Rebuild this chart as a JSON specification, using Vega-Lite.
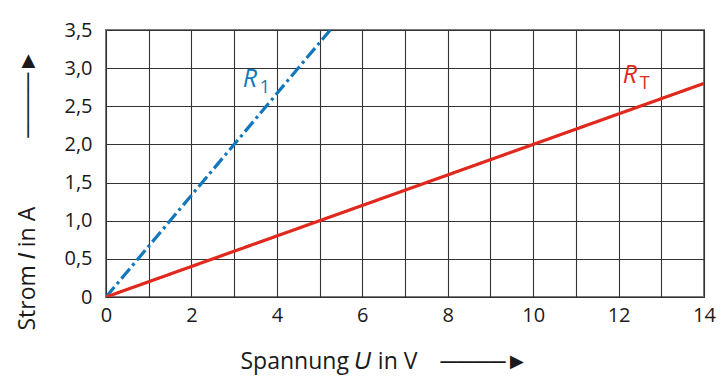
{
  "$schema": "https://vega.github.io/schema/vega-lite/v6.json",
  "autosize": "none",
  "width": 598,
  "height": 267,
  "padding": {"left": 106, "top": 30, "right": 19, "bottom": 86},
  "background": "white",
  "config": {
    "font": "Open Sans",
    "view": {"stroke": "#7a7a7a", "strokeWidth": 2},
    "axis": {
      "labelFont": "Open Sans",
      "labelFontSize": 20,
      "labelColor": "#1a1a1a",
      "labelOverlap": false,
      "titleFont": "Open Sans",
      "titleFontSize": 23,
      "titleFontWeight": "normal",
      "titleColor": "#1a1a1a",
      "gridColor": "#333333",
      "gridWidth": 1.1,
      "gridOpacity": 1,
      "ticks": false,
      "domain": false
    }
  },
  "datasets": {
    "lines": [
      {"series": "R1", "U": 0, "I": 0},
      {"series": "R1", "U": 5.25, "I": 3.5},
      {"series": "RT", "U": 0, "I": 0},
      {"series": "RT", "U": 14, "I": 2.8}
    ],
    "labels": [
      {"series": "R1", "main": "R", "sub": "1", "U": 3.2, "I": 2.75},
      {"series": "RT", "main": "R", "sub": "T", "U": 12.1, "I": 2.8}
    ]
  },
  "encoding": {
    "x": {
      "field": "U", "type": "quantitative",
      "scale": {"domain": [0, 14], "nice": false, "zero": true},
      "axis": {
        "values": [0,1,2,3,4,5,6,7,8,9,10,11,12,13,14],
        "labelExpr": "datum.value % 2 == 0 ? datum.label : ''",
        "labelPadding": 8,
        "labelFlush": false,
        "title": "Spannung 𝑈 in V\u2003────►",
        "titleAnchor": "start",
        "titleAlign": "left",
        "titleX": 134,
        "titleY": 71,
        "titleBaseline": "alphabetic"
      }
    },
    "y": {
      "field": "I", "type": "quantitative",
      "scale": {"domain": [0, 3.5], "nice": false},
      "axis": {
        "values": [0, 0.5, 1, 1.5, 2, 2.5, 3, 3.5],
        "tickCount": 8,
        "labelExpr": "datum.value == 0 ? '0' : replace(format(datum.value, '.1f'), '.', ',')",
        "labelOverlap": false,
        "labelPadding": 14,
        "labelFlush": false,
        "title": "Strom 𝐼 in A\u2003\u2003\u2003────►",
        "titleAngle": -90,
        "titleAlign": "left",
        "titleBaseline": "middle",
        "titleX": -79,
        "titleY": 300
      }
    },
    "color": {
      "field": "series", "type": "nominal",
      "scale": {"domain": ["R1", "RT"], "range": ["#1277bd", "#e1281d"]},
      "legend": null
    }
  },
  "layer": [
    {
      "data": {"name": "lines"},
      "mark": {"type": "line", "strokeWidth": 3.2, "clip": true},
      "encoding": {
        "strokeDash": {
          "field": "series", "type": "nominal",
          "scale": {"domain": ["R1", "RT"], "range": [[13, 4, 3, 4], [1, 0]]},
          "legend": null
        }
      }
    },
    {
      "data": {"name": "labels"},
      "mark": {"type": "text", "fontSize": 25, "fontStyle": "italic", "align": "left", "baseline": "alphabetic", "font": "Open Sans"},
      "encoding": {
        "text": {"field": "main"}
      }
    },
    {
      "data": {"name": "labels"},
      "mark": {"type": "text", "fontSize": 18, "align": "left", "baseline": "alphabetic", "dx": 17, "dy": 6, "font": "Open Sans"},
      "encoding": {
        "text": {"field": "sub"}
      }
    }
  ]
}
